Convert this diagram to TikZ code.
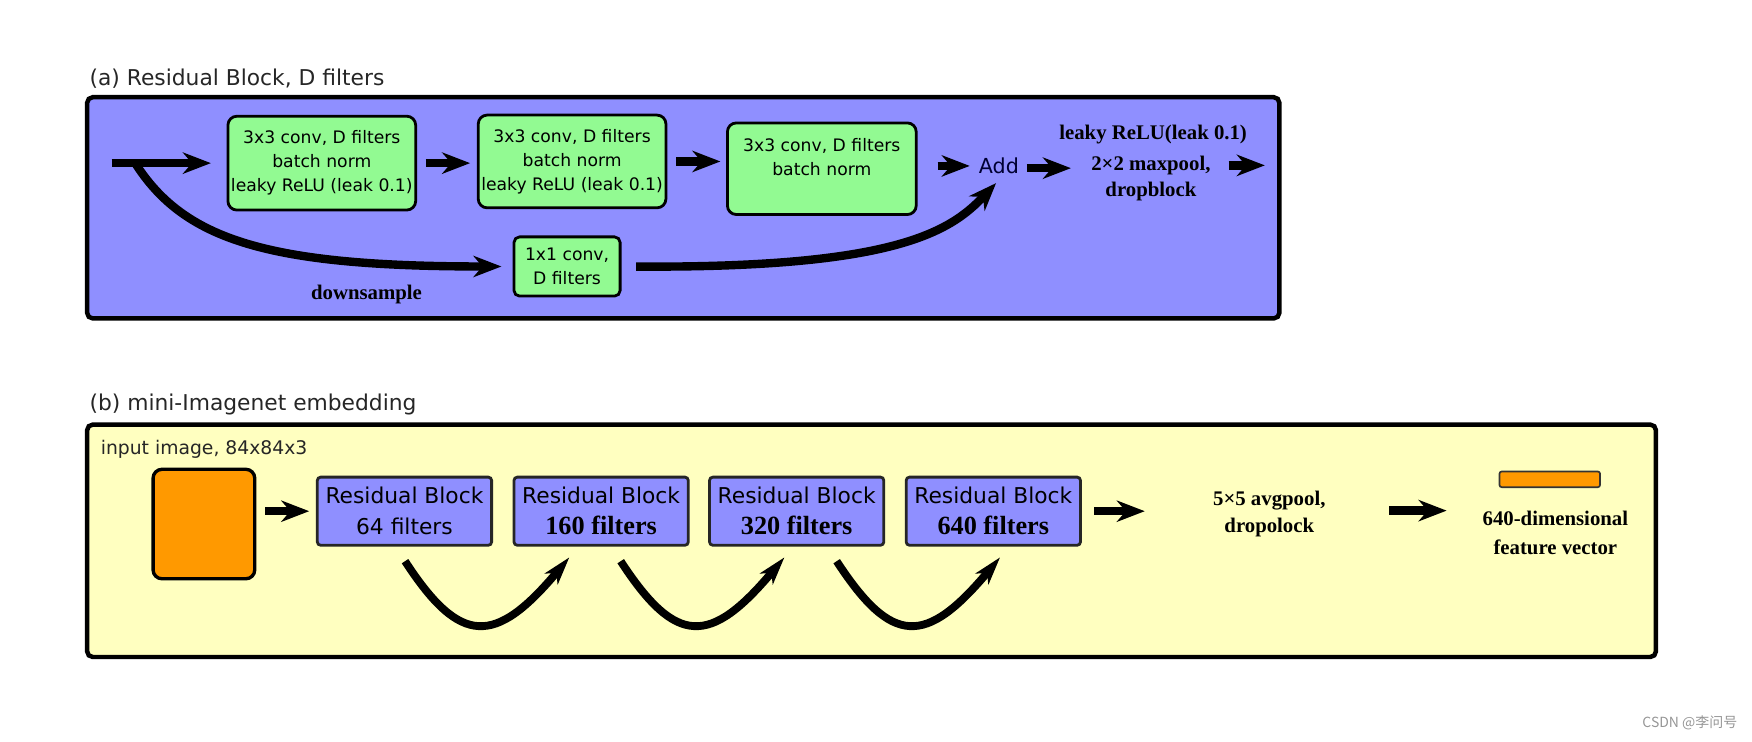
\documentclass[tikz,border=0pt]{standalone}
\usepackage{fontspec}
\newfontfamily\dv{DejaVu Sans}
\newfontfamily\tnr{Liberation Serif}
\newfontfamily\cjk{Noto Sans CJK SC}
\usetikzlibrary{arrows.meta}
\definecolor{bluefill}{RGB}{143,143,255}
\definecolor{greenfill}{RGB}{146,250,146}
\definecolor{yellowfill}{RGB}{255,255,192}
\definecolor{orangefill}{RGB}{255,153,0}
\definecolor{wmgray}{RGB}{150,150,150}
\newcommand\rbnumfont{\tnr\bfseries\fontsize{23.5}{28}\selectfont}
\begin{document}
\begin{tikzpicture}[x=1pt,y=-1pt,
  arr/.style={line width=7.5pt,-{Stealth[length=25pt,width=19pt,inset=8pt]}},
  carr/.style={line width=7pt,-{Stealth[length=25pt,width=15pt,inset=7pt]}},
  panel/.style={draw=black,line width=4pt,rounded corners=5pt,inner sep=0pt},
  gbox/.style={draw=black,line width=2.5pt,fill=greenfill,rounded corners=8pt,align=center,inner sep=0pt,
    font={\dv\fontsize{15.4}{21.5}\selectfont}},
  rbox/.style={draw=black!85,line width=2.5pt,fill=bluefill,rounded corners=3pt,align=center,inner sep=0pt,
    minimum width=156pt,minimum height=61pt,font={\dv\fontsize{19.5}{28}\selectfont}},
  ttl/.style={anchor=west,inner sep=0pt,text=black!85,font={\dv\fontsize{19.5}{23}\selectfont}},
  sbold/.style={inner sep=0pt,align=center,font={\tnr\bfseries\fontsize{18.6}{23.5}\selectfont}}
]
\useasboundingbox (0,0) rectangle (1568,663.2);

% ---------- (a) ----------
\node[ttl] (ta) at (80,70) {(a) Residual Block, D filters};
\node[panel,fill=bluefill,minimum width=1067pt,minimum height=198pt] (pa) at (611.5,186) {};

\node[gbox,minimum width=168pt,minimum height=84pt] (g1) at (288,146)
  {3x3 conv, D filters\\batch norm\\leaky ReLU (leak 0.1)};
\node[gbox,minimum width=168pt,minimum height=83pt] (g2) at (512,144.5)
  {3x3 conv, D filters\\batch norm\\leaky ReLU (leak 0.1)};
\node[gbox,minimum width=169pt,minimum height=82pt] (g3) at (735.5,151)
  {3x3 conv, D filters\\batch norm\\\mbox{}};
\node[gbox,minimum width=95pt,minimum height=53pt,rounded corners=5pt] (g4) at (507.5,238.5)
  {1x1 conv,\\D filters};

\node[inner sep=0pt,text=black!80!blue,font={\dv\fontsize{18.5}{22}\selectfont}] (add) at (894,148.5) {Add};
\node[sbold] (lr) at (1032,120) {leaky ReLU(leak 0.1)};
\node[sbold] (pool) at (1030,160) {2×2 maxpool,\\dropblock};
\node[sbold] (ds) at (328,264) {downsample};

\coordinate (in) at (100,146);
\coordinate (br) at (121,146);
\coordinate (out) at (1132,148);

\draw[arr,shorten >=14pt] (in) -- (g1.west);
\draw[arr,shorten <=8pt,shorten >=6pt] (g1.east) -- (g1.east -| g2.west);
\draw[arr,shorten <=8pt,shorten >=5pt] (g2.east) -- (g2.east -| g3.west);
\draw[arr,shorten <=18pt,shorten >=8pt] (g3.east |- add) -- (add.west);
\draw[arr,shorten <=7pt,shorten >=18pt] ([yshift=-2pt]add.east) -- ([yshift=-2pt]add.east -| pool.west);
\draw[arr,shorten <=16pt] (pool.east |- out) -- (out);
\draw[arr,shorten >=10pt] (br) .. controls (165,215) and (240,238.5) .. (g4.west);
\draw[arr,shorten <=13pt,shorten >=11pt] (g4.east) .. controls (800,240) and (850,208) .. ([xshift=5pt]add.south);

% ---------- (b) ----------
\node[ttl] (tb) at (80,362) {(b) mini-Imagenet embedding};
\node[panel,fill=yellowfill,minimum width=1404pt,minimum height=208pt] (pb) at (780,484) {};
\node[anchor=west,inner sep=0pt,text=black!85,font={\dv\fontsize{16.8}{20}\selectfont}] (inp) at (90,402)
  {input image, 84x84x3};
\node[draw=black,line width=3pt,fill=orangefill,rounded corners=8pt,minimum width=91pt,minimum height=98pt,inner sep=0pt] (img) at (182.5,469) {};

\node[rbox] (rb1) at (362,457.5) {Residual Block\\64 filters};
\node[rbox] (rb2) at (538,457.5) {Residual Block\\{\rbnumfont 160 filters}};
\node[rbox] (rb3) at (713,457.5) {Residual Block\\{\rbnumfont 320 filters}};
\node[rbox] (rb4) at (889,457.5) {Residual Block\\{\rbnumfont 640 filters}};

\node[sbold,font={\tnr\bfseries\fontsize{18.6}{24}\selectfont}] (avg) at (1136,460) {5×5 avgpool,\\dropolock};
\node[draw=black!80,line width=1.5pt,fill=orangefill,rounded corners=2pt,minimum width=90pt,minimum height=14pt,inner sep=0pt] (bar) at (1387,429) {};
\node[sbold,font={\tnr\bfseries\fontsize{18.6}{26}\selectfont}] (vec) at (1392,477) {640-dimensional\\feature vector};

\draw[arr,shorten <=8pt,shorten >=6pt] (img.east |- rb1) -- (rb1.west);
\draw[arr,shorten <=11pt,shorten >=61pt] (rb4.east) -- (rb4.east -| avg.west);
\draw[arr,shorten <=57pt,shorten >=32pt] ([yshift=3pt]avg.east) -- ([yshift=3pt]avg.east -| vec.west);

\draw[carr] ([shift={(0.5,13)}]rb1.south) .. controls +(49.5,76) and +(-66.5,79.4) .. ([shift={(-28.5,9.6)}]rb2.south);
\draw[carr] ([shift={(17.5,13)}]rb2.south) .. controls +(49.5,76) and +(-66.5,79.4) .. ([shift={(-11,9.6)}]rb3.south);
\draw[carr] ([shift={(35.8,13)}]rb3.south) .. controls +(49.5,76) and +(-66.5,79.4) .. ([shift={(6,9.6)}]rb4.south);

\node[anchor=east,inner sep=0pt,text=wmgray,font={\cjk\fontsize{12.5}{15}\selectfont}] (wm) at (1555,647) {CSDN @李问号};
\end{tikzpicture}
\end{document}
